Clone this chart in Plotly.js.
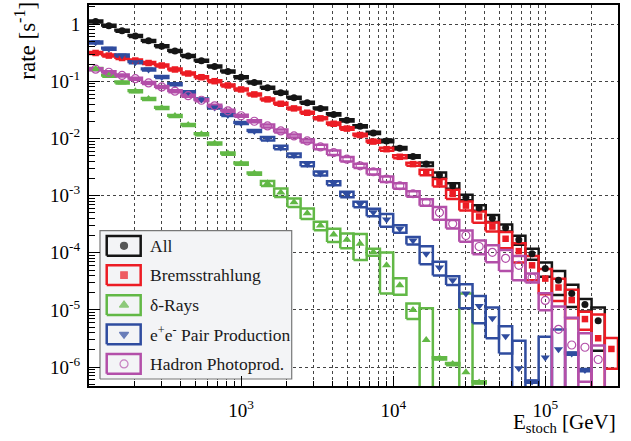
<!DOCTYPE html>
<html>
<head>
<meta charset="utf-8">
<script src="https://cdn.plot.ly/plotly-3.0.1.min.js"></script>
<style>html,body{margin:0;padding:0;background:#fff;}#chart{width:631px;height:441px;}</style>
</head>
<body>
<div id="chart"></div>
<script>
// Log-spaced bins in E_stoch [GeV]
const binEdges = [100, 122.2, 149.2, 182.3, 222.8, 272.2, 332.3, 406.0, 496.0, 605.9, 740.2, 904.2,
  1104.5, 1349.4, 1648.4, 2013.7, 2459.7, 3004.8, 3670.4, 4484.1, 5477.5, 6691.3, 8174.4, 9984.8,
  12200, 14900, 18200, 22235, 27164, 33183, 40535, 49520, 60494, 73903, 90281,
  110290, 134740, 164590, 201060, 245600, 300000];

const seriesNames = ["All", "Bremsstrahlung", "δ-Rays", "e<sup>+</sup>e<sup>-</sup> Pair Production", "Hadron Photoprod."];

// rate [1/s]
const allRate = [1.11,0.94,0.77,0.62,0.51,0.41,0.34,0.277,0.23,0.181,0.148,0.118,0.095,0.0769,0.0629,0.0515,0.0421,0.0336,0.0264,0.0208,0.0163,0.0125,0.00906,0.00676,0.00483,0.00356,0.00229,0.00149,0.000934,0.00061,0.000403,0.000274,0.000169,9.66e-5,5.29e-5,3.31e-5,1.94e-5,1.25e-5,6.48e-6,null];
const bremsRate = [0.313,0.282,0.256,0.231,0.209,0.189,0.161,0.137,0.118,0.1005,0.0846,0.0721,0.059,0.0483,0.0405,0.0336,0.0282,0.0225,0.0181,0.0149,0.0115,0.00882,0.0065,0.00478,0.00356,0.00255,0.0017,0.00107,0.000669,0.000431,0.000288,0.000176,0.000107,6.04e-5,3.54e-5,2.47e-5,1.49e-5,6.93e-6,3.2e-6,2.08e-6];
const deltaRate = [0.165,0.125,0.0955,0.0673,0.0489,0.034,0.0247,0.0172,0.0119,0.00814,0.00545,0.00365,0.00244,0.00164,0.00114,0.000764,0.000492,0.0003,0.000209,0.000169,0.000144,0.000103,6.04e-5,2.71e-5,9.95e-6,2.99e-6,1.43e-6,1.13e-6,8.1e-7,5.4e-7,null,null,null,null,null,null,null,null,null,null];
const pairRate = [0.48,0.373,0.282,0.216,0.161,0.119,0.0892,0.0647,0.0483,0.035,0.0258,0.0186,0.0135,0.00995,0.00694,0.00511,0.00356,0.00244,0.00165,0.00105,0.000704,0.000511,0.000382,0.000263,0.000164,9.66e-5,5.51e-5,3.31e-5,1.94e-5,1.17e-5,7.13e-6,3.46e-6,9.6e-7,5.6e-7,1.48e-6,2.06e-6,1.73e-6,8.9e-7,null,null];
const hadronRate = [0.163,0.144,0.127,0.111,0.0939,0.0797,0.0673,0.056,0.0466,0.0373,0.0305,0.025,0.02,0.01655,0.01355,0.01109,0.00906,0.00713,0.00567,0.00435,0.00333,0.00262,0.00195,0.00149,0.00108,0.000764,0.000506,0.000321,0.000201,0.000129,0.000102,8.0e-5,6.04e-5,3.69e-5,1.47e-5,4.58e-6,2.44e-6,2.23e-6,1.36e-6,null];

// relative systematic uncertainty (box half-height, fraction of rate)
const allSys = [0.04,0.04,0.04,0.04,0.04,0.04,0.04,0.04,0.04,0.04,0.04,0.04,0.04,0.04,0.04,0.04,0.04,0.04,0.045,0.045,0.045,0.045,0.05,0.05,0.05,0.07,0.11,0.11,0.11,0.11,0.14,0.14,0.18,0.22,0.28,0.45,0.42,0.25,0.7,null];
const bremsSys = [0.04,0.04,0.04,0.04,0.04,0.04,0.04,0.04,0.04,0.04,0.04,0.04,0.04,0.04,0.04,0.04,0.04,0.04,0.05,0.05,0.05,0.05,0.06,0.06,0.06,0.11,0.15,0.18,0.18,0.22,0.18,0.32,0.37,0.45,0.47,0.42,0.52,0.35,1.6,0.55];
const deltaSys = [0.04,0.04,0.04,0.04,0.04,0.04,0.04,0.04,0.04,0.04,0.045,0.045,0.045,0.1,0.17,0.17,0.21,0.17,0.26,0.29,0.48,0.14,0.68,0.32,0.3,2.6,0.045,0.045,23,0.045,null,null,null,null,null,null,null,null,null,null];
const pairSys = [0.04,0.04,0.04,0.04,0.04,0.04,0.04,0.04,0.04,0.04,0.04,0.04,0.04,0.07,0.07,0.07,0.08,0.08,0.08,0.11,0.11,0.15,0.25,0.15,0.15,0.35,0.27,0.17,0.45,0.5,0.55,0.5,2,0.045,1.3,1.2,0.045,0.045,null,null];
const hadronSys = [0.04,0.04,0.04,0.04,0.04,0.04,0.04,0.04,0.04,0.04,0.04,0.04,0.04,0.06,0.06,0.06,0.06,0.09,0.09,0.09,0.09,0.11,0.11,0.11,0.11,0.13,0.25,0.17,0.22,0.27,0.33,0.4,0.45,0.18,0.33,1.5,2.0,0.75,0.75,null];

const xTickVals = [1e3, 1e4, 1e5];
const xTickText = ["10<sup>3</sup>", "10<sup>4</sup>", "10<sup>5</sup>"];
const yTickVals = [1e-6, 1e-5, 1e-4, 1e-3, 1e-2, 1e-1, 1];
const yTickText = ["10<sup>-6</sup>", "10<sup>-5</sup>", "10<sup>-4</sup>", "10<sup>-3</sup>", "10<sup>-2</sup>", "10<sup>-1</sup>", "1"];

const serif = '"Liberation Serif", "Times New Roman", "DejaVu Serif", serif';
const colors = ["#151515", "#ec1c24", "#62b846", "#2f4c9f", "#b34fa9"];
const symbols = ["circle", "square", "triangle-up", "triangle-down", "circle-open"];
const msizes = [7, 6.5, 8, 8, 8];
const rates = [allRate, bremsRate, deltaRate, pairRate, hadronRate];
const syss = [allSys, bremsSys, deltaSys, pairSys, hadronSys];

const centers = binEdges.slice(0, -1).map((lo, i) => Math.sqrt(lo * binEdges[i + 1]));

function boxes(vals, sys) {
  const xs = [], ys = [];
  vals.forEach((v, i) => {
    if (v == null) return;
    const lo = binEdges[i], hi = binEdges[i + 1], s = sys[i];
    const y0 = v * (1 - s) > 0 ? v * (1 - s) : 1e-9;
    const y1 = v * (1 + s);
    xs.push(lo, hi, hi, lo, lo, null);
    ys.push(y0, y0, y1, y1, y0, null);
  });
  return {xs, ys};
}

const traces = [];
rates.forEach((r, k) => {
  const b = boxes(r, syss[k]);
  traces.push({type: 'scatter', mode: 'lines', x: b.xs, y: b.ys, hoverinfo: 'skip',
    line: {color: colors[k], width: 2.5}, showlegend: false});
});
rates.forEach((r, k) => {
  traces.push({type: 'scatter', mode: 'markers', x: centers, y: r, name: seriesNames[k],
    marker: {symbol: symbols[k], size: msizes[k], color: colors[k], line: {color: colors[k], width: k === 4 ? 1.2 : 0}},
    showlegend: false});
});

// custom legend drawn on an overlay [0,1]x[0,1] frame so that it sits above the grid
const legY = [0.368, 0.291, 0.2125, 0.1355, 0.058];
const legX = 0.0662;
const bg = {x0: 0.0208, x1: 0.3832, y0: 0.0184, y1: 0.4076};
traces.push({type: 'scatter', mode: 'lines', xaxis: 'x2', yaxis: 'y2', hoverinfo: 'skip',
  x: [bg.x0, bg.x1, bg.x1, bg.x0, bg.x0], y: [bg.y0, bg.y0, bg.y1, bg.y1, bg.y0],
  fill: 'toself', fillcolor: '#f3f4f6', line: {color: '#777', width: 1.2}, showlegend: false});
legY.forEach((y, k) => {
  const ex0 = 0.0335, ex1 = 0.0977, ey0 = y - 0.026, ey1 = y + 0.026;
  traces.push({type: 'scatter', mode: 'lines', xaxis: 'x2', yaxis: 'y2', hoverinfo: 'skip',
    x: [ex0, ex1, ex1, ex0, ex0], y: [ey0, ey0, ey1, ey1, ey0],
    line: {color: colors[k], width: 2.5}, showlegend: false});
});
traces.push({type: 'scatter', mode: 'markers', xaxis: 'x2', yaxis: 'y2', hoverinfo: 'skip',
  x: legY.map(() => legX), y: legY,
  marker: {symbol: symbols, size: msizes, color: colors, line: {color: colors, width: 1.2}},
  showlegend: false});

const annotations = [];
legY.forEach((y, k) => {
  annotations.push({xref: 'paper', yref: 'paper', x: 0.1115, y: y, xanchor: 'left', yanchor: 'middle',
    text: seriesNames[k], showarrow: false, font: {family: serif, size: 17.5, color: '#1a1a1a'}});
});
annotations.push({xref: 'paper', yref: 'paper', x: 1.0, y: -0.097, xanchor: 'right', yanchor: 'middle',
  text: 'E<sub>stoch</sub> [GeV]', showarrow: false, font: {family: serif, size: 21, color: '#000'}});
annotations.push({xref: 'paper', yref: 'paper', x: -0.12, y: 0.905, xanchor: 'center', yanchor: 'middle', textangle: -90,
  text: 'rate [s<sup>-1</sup>]', showarrow: false, font: {family: serif, size: 23, color: '#000'}});

const xMinor = [], yMinor = [];
[100, 1000, 10000, 100000].forEach(d => { for (let m = 2; m <= 9; m++) xMinor.push(m * d); });
for (let e = -7; e <= 0; e++) for (let m = 2; m <= 9; m++) yMinor.push(m * Math.pow(10, e));

const layout = {
  width: 631, height: 441,
  margin: {l: 89, r: 13, t: 5, b: 55},
  paper_bgcolor: '#fff', plot_bgcolor: '#fff',
  showlegend: false,
  font: {family: serif, color: '#000'},
  xaxis: {type: 'log', range: [2, 5.4771], tickmode: 'array', tickvals: xTickVals, ticktext: xTickText,
    ticks: 'inside', ticklen: 10, tickwidth: 1, tickcolor: '#000',
    showgrid: true, gridcolor: '#444', griddash: 'dot', gridwidth: 1,
    showline: true, linecolor: '#000', linewidth: 2, mirror: true, zeroline: false,
    tickfont: {family: serif, size: 19, color: '#000'}, ticklabelstandoff: 6,
    minor: {tickmode: 'array', tickvals: xMinor, ticks: 'inside', ticklen: 5, tickcolor: '#000',
      showgrid: true, gridcolor: '#444', griddash: 'dot', gridwidth: 1}},
  yaxis: {type: 'log', range: [-6.33, 0.335], tickmode: 'array', tickvals: yTickVals, ticktext: yTickText,
    ticks: 'inside', ticklen: 11, tickwidth: 1, tickcolor: '#000',
    showgrid: true, gridcolor: '#444', griddash: 'dot', gridwidth: 1,
    showline: true, linecolor: '#000', linewidth: 2, mirror: true, zeroline: false,
    tickfont: {family: serif, size: 19, color: '#000'}, ticklabelstandoff: 3,
    minor: {tickmode: 'array', tickvals: yMinor, ticks: 'inside', ticklen: 6, tickcolor: '#000', showgrid: false}},
  xaxis2: {overlaying: 'x', anchor: 'y2', range: [0, 1], visible: false, fixedrange: true},
  yaxis2: {overlaying: 'y', anchor: 'x2', range: [0, 1], visible: false, fixedrange: true},
  annotations: annotations
};

Plotly.newPlot('chart', traces, layout, {displayModeBar: false, staticPlot: true});
</script>
</body>
</html>
